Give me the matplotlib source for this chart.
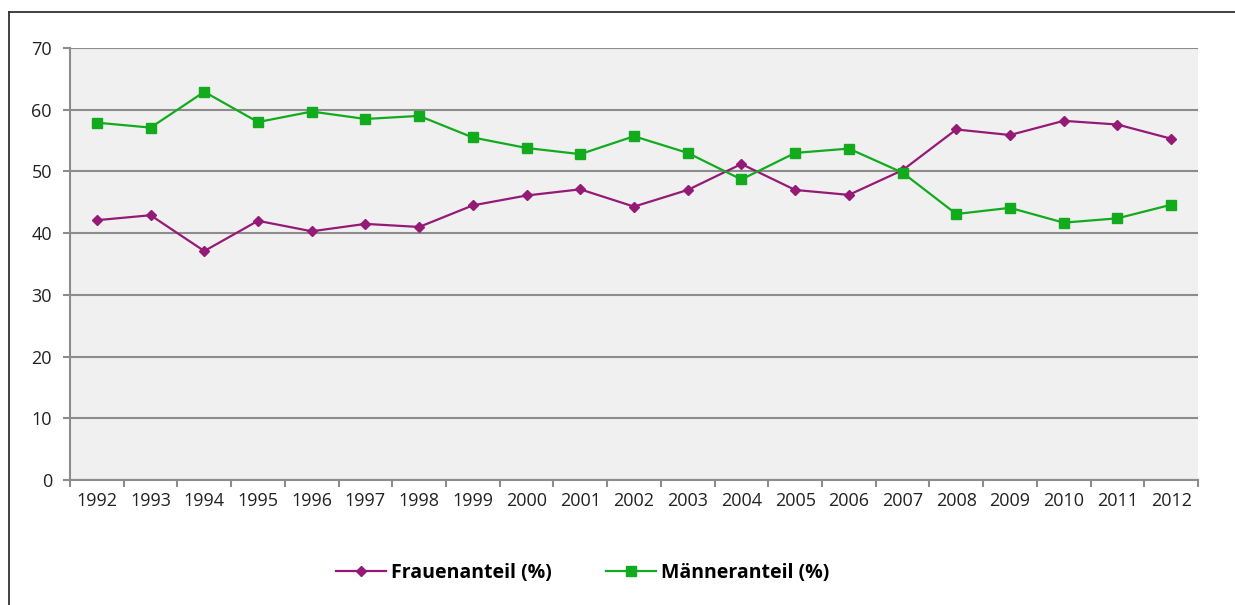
import matplotlib.pyplot as plt
from matplotlib.lines import Line2D

# Frauen- und Maenneranteil 1992-2012
years = ['1992', '1993', '1994', '1995', '1996', '1997', '1998', '1999', '2000', '2001', '2002',
         '2003', '2004', '2005', '2006', '2007', '2008', '2009', '2010', '2011', '2012']
frauen = [42.1, 42.9, 37.1, 42.0, 40.3, 41.5, 41.0, 44.5, 46.1, 47.1, 44.3,
          47.0, 51.2, 47.0, 46.2, 50.2, 56.8, 55.9, 58.2, 57.6, 55.3]
maenner = [57.9, 57.1, 62.9, 58.0, 59.7, 58.5, 59.0, 55.5, 53.8, 52.8, 55.7,
           53.0, 48.7, 53.0, 53.7, 49.8, 43.1, 44.1, 41.7, 42.4, 44.6]
yticks = [0, 10, 20, 30, 40, 50, 60, 70]

purple = '#951a76'
green = '#12ab1e'
grid_col = '#8c8c8c'
tick_font = ['Open Sans', 'DejaVu Sans']
legend_font = ['Liberation Sans Narrow', 'Open Sans', 'DejaVu Sans']

fig = plt.figure(figsize=(12.35, 6.05), dpi=100)
ax = fig.add_axes([70/1235, 1-480/605, 1128/1235, 432/605])
ax.set_facecolor('#f0f0f0')

x = list(range(len(years)))
l1, = ax.plot(x, frauen, color=purple, lw=1.6, marker='D', markersize=5.5, zorder=3)
l2, = ax.plot(x, maenner, color=green, lw=1.6, marker='s', markersize=7.5, zorder=4)

ax.set_ylim(0, 70)
ax.set_yticks(yticks)
ax.set_yticklabels([str(v) for v in yticks], family=tick_font, fontsize=13, color='#222222')
ax.yaxis.grid(True, color=grid_col, lw=1.5)
ax.set_axisbelow(True)

ax.set_xlim(-0.5, len(years) - 0.5)
ax.set_xticks([i - 0.5 for i in range(len(years) + 1)])
ax.set_xticklabels([])
ax.set_xticks(x, minor=True)
ax.set_xticklabels(years, minor=True, family=tick_font, fontsize=13, color='#222222')
ax.tick_params(axis='x', which='minor', length=0, pad=9)
ax.tick_params(axis='x', which='major', length=5, width=1.5, color=grid_col, direction='out')
ax.tick_params(axis='y', length=5, width=1.5, color=grid_col, pad=8)

for s in ['top', 'right']:
    ax.spines[s].set_visible(False)
for s in ['left', 'bottom']:
    ax.spines[s].set_color(grid_col)
    ax.spines[s].set_linewidth(1.5)

leg = fig.legend([l1, l2], ['Frauenanteil (%)', 'Männeranteil (%)'], loc='center',
                 bbox_to_anchor=(583/1235, 1-573/605), ncol=2, frameon=False,
                 handlelength=2.55, columnspacing=2.8, handletextpad=0.27,
                 prop={'family': legend_font, 'weight': 'bold', 'size': 14})

# outer frame (left and top edge only visible)
fig.add_artist(Line2D([9/1235, 9/1235], [0, 1-12/605], color='#333333', lw=1.3))
fig.add_artist(Line2D([9/1235, 1], [1-12/605, 1-12/605], color='#333333', lw=1.3))

fig.savefig('out.png', dpi=100)
